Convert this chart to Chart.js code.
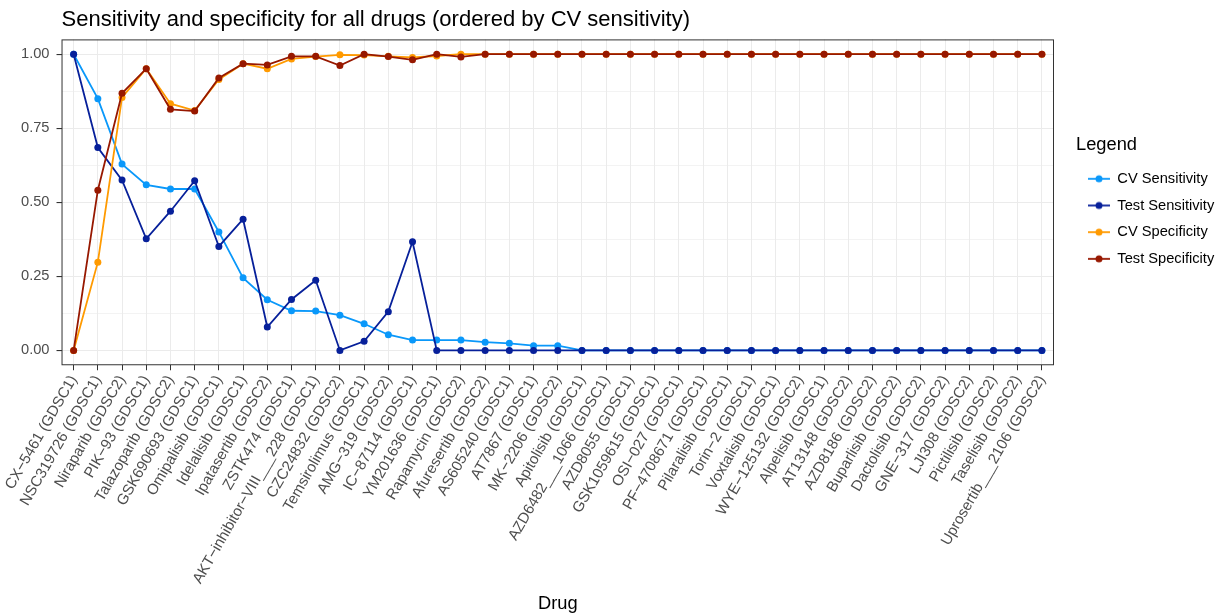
<!DOCTYPE html>
<html>
<head>
    <meta charset="utf-8">
    <script src="https://cdn.jsdelivr.net/npm/chart.js"></script>
    <title>Sensitivity and specificity</title>
    <style>
        body { margin: 0; background: #fff; }
        .chart-box { width: 1223px; height: 615px; }
    </style>
</head>
<body>
    <div class="chart-box">
        <canvas id="chartSens"></canvas>
    </div>

    <script type="text/javascript">
        const drugs = [
            'CX\u22125461 (GDSC1)', 'NSC319726 (GDSC1)', 'Niraparib (GDSC2)', 'PIK\u221293 (GDSC1)',
            'Talazoparib (GDSC2)', 'GSK690693 (GDSC1)', 'Omipalisib (GDSC1)', 'Idelalisib (GDSC1)',
            'Ipatasertib (GDSC2)', 'ZSTK474 (GDSC1)', 'AKT\u2212inhibitor\u2212VIII___228 (GDSC1)', 'CZC24832 (GDSC2)',
            'Temsirolimus (GDSC1)', 'AMG\u2212319 (GDSC2)', 'IC\u221287114 (GDSC1)', 'YM201636 (GDSC1)',
            'Rapamycin (GDSC2)', 'Afuresertib (GDSC2)', 'AS605240 (GDSC1)', 'AT7867 (GDSC1)',
            'MK\u22122206 (GDSC2)', 'Apitolisib (GDSC1)', 'AZD6482___1066 (GDSC1)', 'AZD8055 (GDSC1)',
            'GSK1059615 (GDSC1)', 'OSI\u2212027 (GDSC1)', 'PF\u22124708671 (GDSC1)', 'Pilaralisib (GDSC1)',
            'Torin\u22122 (GDSC1)', 'Voxtalisib (GDSC1)', 'WYE\u2212125132 (GDSC2)', 'Alpelisib (GDSC1)',
            'AT13148 (GDSC2)', 'AZD8186 (GDSC2)', 'Buparlisib (GDSC2)', 'Dactolisib (GDSC2)',
            'GNE\u2212317 (GDSC2)', 'LJI308 (GDSC2)', 'Pictilisib (GDSC2)', 'Taselisib (GDSC2)',
            'Uprosertib___2106 (GDSC2)'
        ];

        const cvSensitivity = [
            1.00, 0.850, 0.629, 0.559, 0.545, 0.545, 0.400, 0.245, 0.171, 0.134,
            0.133, 0.119, 0.090, 0.053, 0.035, 0.035, 0.035, 0.028, 0.024, 0.016,
            0.016, 0, 0, 0, 0, 0, 0, 0, 0, 0,
            0, 0, 0, 0, 0, 0, 0, 0, 0, 0, 0
        ];

        const testSensitivity = [
            1.00, 0.685, 0.575, 0.377, 0.470, 0.573, 0.351, 0.443, 0.079, 0.172,
            0.237, 0, 0.031, 0.131, 0.367, 0, 0, 0, 0, 0,
            0, 0, 0, 0, 0, 0, 0, 0, 0, 0,
            0, 0, 0, 0, 0, 0, 0, 0, 0, 0, 0
        ];

        const cvSpecificity = [
            0, 0.298, 0.854, 0.951, 0.833, 0.810, 0.915, 0.968, 0.951, 0.984,
            0.992, 0.998, 0.997, 0.993, 0.989, 0.994, 1.00, 1.00, 1.00, 1.00,
            1.00, 1.00, 1.00, 1.00, 1.00, 1.00, 1.00, 1.00, 1.00, 1.00,
            1.00, 1.00, 1.00, 1.00, 1.00, 1.00, 1.00, 1.00, 1.00, 1.00, 1.00
        ];

        const testSpecificity = [
            0, 0.541, 0.868, 0.951, 0.814, 0.808, 0.920, 0.968, 0.964, 0.993,
            0.993, 0.962, 1.00, 0.992, 0.981, 1.00, 0.991, 1.00, 1.00, 1.00,
            1.00, 1.00, 1.00, 1.00, 1.00, 1.00, 1.00, 1.00, 1.00, 1.00,
            1.00, 1.00, 1.00, 1.00, 1.00, 1.00, 1.00, 1.00, 1.00, 1.00, 1.00
        ];

        const seriesNames = ['CV Sensitivity', 'Test Sensitivity', 'CV Specificity', 'Test Specificity'];
        const yTicks = [0, 0.125, 0.25, 0.375, 0.5, 0.625, 0.75, 0.875, 1.0];
        const majorTicks = [0, 0.25, 0.5, 0.75, 1.0];

        const colors = ['#0A98FA', '#07209A', '#FF9A00', '#971800'];
        const fontFamily = "'Liberation Sans', Arial, sans-serif";

        // little line + dot image, like the ggplot legend keys
        function keyImage(color) {
            const c = document.createElement('canvas');
            c.width = 22;
            c.height = 12;
            const g = c.getContext('2d');
            g.strokeStyle = color;
            g.lineWidth = 1.8;
            g.beginPath();
            g.moveTo(0, 6);
            g.lineTo(22, 6);
            g.stroke();
            g.fillStyle = color;
            g.beginPath();
            g.arc(11, 6, 3.5, 0, Math.PI * 2);
            g.fill();
            return c;
        }

        const panelBorder = {
            id: 'panelBorder',
            afterDatasetsDraw(chart) {
                const {ctx, chartArea} = chart;
                ctx.save();
                ctx.strokeStyle = '#333333';
                ctx.lineWidth = 1;
                ctx.strokeRect(chartArea.left + 0.5, chartArea.top + 0.5,
                    chartArea.right - chartArea.left - 1, chartArea.bottom - chartArea.top - 1);
                ctx.restore();
            }
        };

        const series = [cvSensitivity, testSensitivity, cvSpecificity, testSpecificity];
        const datasets = series.map((vals, i) => ({
            label: seriesNames[i],
            data: vals,
            borderColor: colors[i],
            backgroundColor: colors[i],
            pointBackgroundColor: colors[i],
            borderWidth: 1.8,
            pointRadius: 3.5,
            pointBorderWidth: 0,
            pointHoverRadius: 3.5,
            tension: 0,
            order: 4 - i,
            yAxisID: 'y'
        }));

        const ctx = document.getElementById('chartSens').getContext('2d');

        new Chart(ctx, {
            type: 'line',
            data: {
                labels: drugs,
                datasets: datasets
            },
            options: {
                responsive: true,
                maintainAspectRatio: false,
                animation: false,
                layout: {
                    padding: { left: 14, right: 0, top: 0, bottom: 0 }
                },
                plugins: {
                    title: {
                        display: true,
                        text: 'Sensitivity and specificity for all drugs (ordered by CV sensitivity)',
                        align: 'start',
                        fullSize: false,
                        color: '#000',
                        font: { family: fontFamily, size: 22, weight: 'normal' },
                        padding: { top: 7, bottom: 6 }
                    },
                    legend: {
                        position: 'right',
                        align: 'center',
                        fullSize: false,
                        maxWidth: 147,
                        title: {
                            display: true,
                            text: 'Legend',
                            position: 'start',
                            color: '#000',
                            font: { family: fontFamily, size: 18.3 },
                            padding: { top: 9, bottom: 2 }
                        },
                        labels: {
                            usePointStyle: true,
                            pointStyleWidth: 22,
                            padding: 12,
                            color: '#000',
                            font: { family: fontFamily, size: 14.67 },
                            generateLabels(chart) {
                                return chart.data.datasets.map((ds, i) => ({
                                    text: ds.label,
                                    pointStyle: keyImage(ds.borderColor),
                                    fillStyle: ds.borderColor,
                                    strokeStyle: ds.borderColor,
                                    lineWidth: 0,
                                    hidden: false,
                                    fontColor: '#000',
                                    datasetIndex: i
                                }));
                            }
                        }
                    },
                    tooltip: { enabled: false }
                },
                scales: {
                    x: {
                        type: 'category',
                        offset: true,
                        grid: {
                            offset: false,
                            color: '#EBEBEB',
                            lineWidth: 1,
                            tickColor: '#333333',
                            tickLength: 5
                        },
                        border: { display: false },
                        ticks: {
                            autoSkip: false,
                            minRotation: 60,
                            maxRotation: 60,
                            padding: 2,
                            color: '#4D4D4D',
                            font: { family: fontFamily, size: 15 }
                        },
                        title: {
                            display: true,
                            text: 'Drug',
                            color: '#000',
                            font: { family: fontFamily, size: 18.3 },
                            padding: { top: 4, bottom: 0 }
                        }
                    },
                    y: {
                        min: -0.05,
                        max: 1.05,
                        afterBuildTicks: axis => {
                            axis.ticks = yTicks.map(v => ({ value: v }));
                        },
                        grid: {
                            color: '#EBEBEB',
                            lineWidth: c => majorTicks.includes(c.tick ? c.tick.value : -1) ? 1.1 : 0.6,
                            tickColor: c => majorTicks.includes(c.tick ? c.tick.value : -1) ? '#333333' : 'rgba(0,0,0,0)',
                            tickLength: 5
                        },
                        border: { display: false },
                        ticks: {
                            padding: 7,
                            color: '#4D4D4D',
                            font: { family: fontFamily, size: 14.67 },
                            callback: v => majorTicks.includes(v) ? v.toFixed(2) : ''
                        }
                    },
                    gap: {
                        position: 'right',
                        display: true,
                        grid: { display: false },
                        border: { display: false },
                        ticks: { display: false },
                        afterFit: axis => { axis.width = 22; }
                    }
                }
            },
            plugins: [panelBorder]
        });
    </script>
</body>
</html>
